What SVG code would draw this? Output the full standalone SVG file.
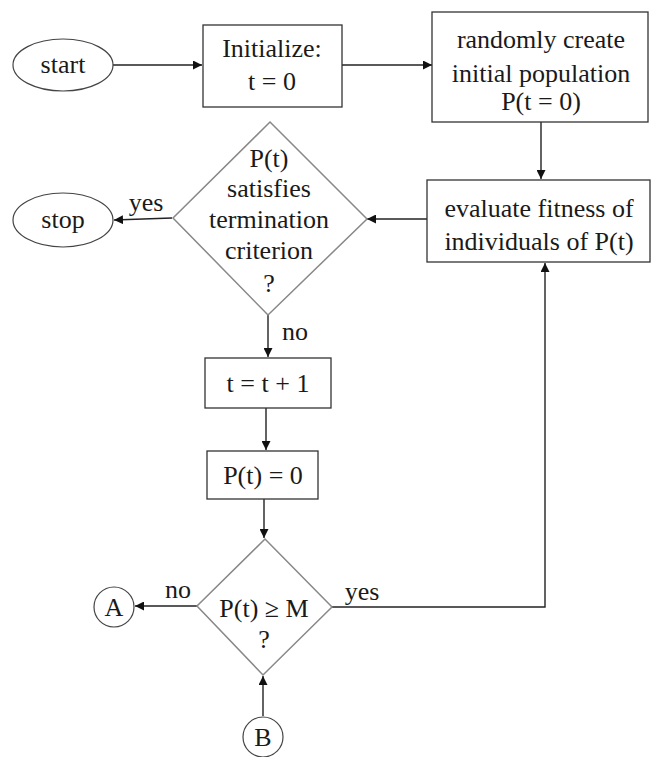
<svg xmlns="http://www.w3.org/2000/svg" width="652" height="757" viewBox="0 0 652 757">
<defs>
<style>
text{font-family:"Liberation Serif","Times New Roman","DejaVu Serif",serif;font-size:26px;fill:#1a1a1a;text-anchor:middle}
.box{fill:#fff;stroke:#333;stroke-width:1.3}
.dia{fill:#fff;stroke:#888;stroke-width:1.5}
.ell{fill:#fff;stroke:#444;stroke-width:1.2}
.ln{fill:none;stroke:#222;stroke-width:1.4}
</style>
<marker id="ah" viewBox="0 0 10 10" refX="10" refY="5" markerWidth="9" markerHeight="9" markerUnits="userSpaceOnUse" orient="auto"><path d="M0,0 L10,5 L0,10 z" fill="#111"/></marker>
</defs>
<rect width="652" height="757" fill="#fff"/>
<g id="connectors">
<line class="ln" x1="113" y1="65" x2="202" y2="65" marker-end="url(#ah)"/>
<line class="ln" x1="342" y1="65" x2="432" y2="65" marker-end="url(#ah)"/>
<line class="ln" x1="541" y1="122" x2="541" y2="179" marker-end="url(#ah)"/>
<line class="ln" x1="427" y1="219" x2="367" y2="219" marker-end="url(#ah)"/>
<line class="ln" x1="172" y1="218" x2="114" y2="220" marker-end="url(#ah)"/>
<text x="146" y="211">yes</text>
<line class="ln" x1="268" y1="315" x2="268" y2="357" marker-end="url(#ah)"/>
<text x="295" y="340">no</text>
<line class="ln" x1="266" y1="408" x2="266" y2="450" marker-end="url(#ah)"/>
<line class="ln" x1="264" y1="499" x2="264" y2="538" marker-end="url(#ah)"/>
<line class="ln" x1="197" y1="606" x2="135" y2="606" marker-end="url(#ah)"/>
<text x="178" y="598">no</text>
<polyline class="ln" points="332,607 545,607 545,263" marker-end="url(#ah)"/>
<text x="362" y="600">yes</text>
<line class="ln" x1="263" y1="716" x2="263" y2="676" marker-end="url(#ah)"/>
</g>
<g id="start"><ellipse class="ell" cx="63" cy="65" rx="50" ry="26"/><text x="63" y="73">start</text></g>
<g id="init"><rect class="box" x="203" y="25" width="139" height="82"/><text x="272" y="57">Initialize:</text><text x="272" y="90">t = 0</text></g>
<g id="create"><rect class="box" x="432" y="12" width="216" height="110"/><text x="541" y="48">randomly create</text><text x="541" y="82">initial population</text><text x="541" y="110">P(t = 0)</text></g>
<g id="evaluate"><rect class="box" x="427" y="180" width="223" height="82"/><text x="539" y="217">evaluate fitness of</text><text x="539" y="250">individuals of P(t)</text></g>
<g id="terminate"><polygon class="dia" points="270,122 367,219 268,315 173,218"/><text x="269" y="167">P(t)</text><text x="269" y="197">satisfies</text><text x="269" y="228">termination</text><text x="269" y="259">criterion</text><text x="269" y="292">?</text></g>
<g id="stop"><ellipse class="ell" cx="63" cy="220" rx="50" ry="27"/><text x="63" y="228">stop</text></g>
<g id="inc"><rect class="box" x="205" y="358" width="126" height="50"/><text x="268" y="392">t = t + 1</text></g>
<g id="reset"><rect class="box" x="207" y="451" width="111" height="48"/><text x="263" y="484">P(t) = 0</text></g>
<g id="check"><polygon class="dia" points="265,539 332,607 263,675 197,606"/><text x="264" y="617">P(t) ≥ M</text><text x="264" y="648">?</text></g>
<g id="A"><circle class="ell" cx="114" cy="607" r="20"/><text x="114" y="616">A</text></g>
<g id="B"><circle class="ell" cx="263" cy="737" r="20"/><text x="263" y="746">B</text></g>
</svg>
